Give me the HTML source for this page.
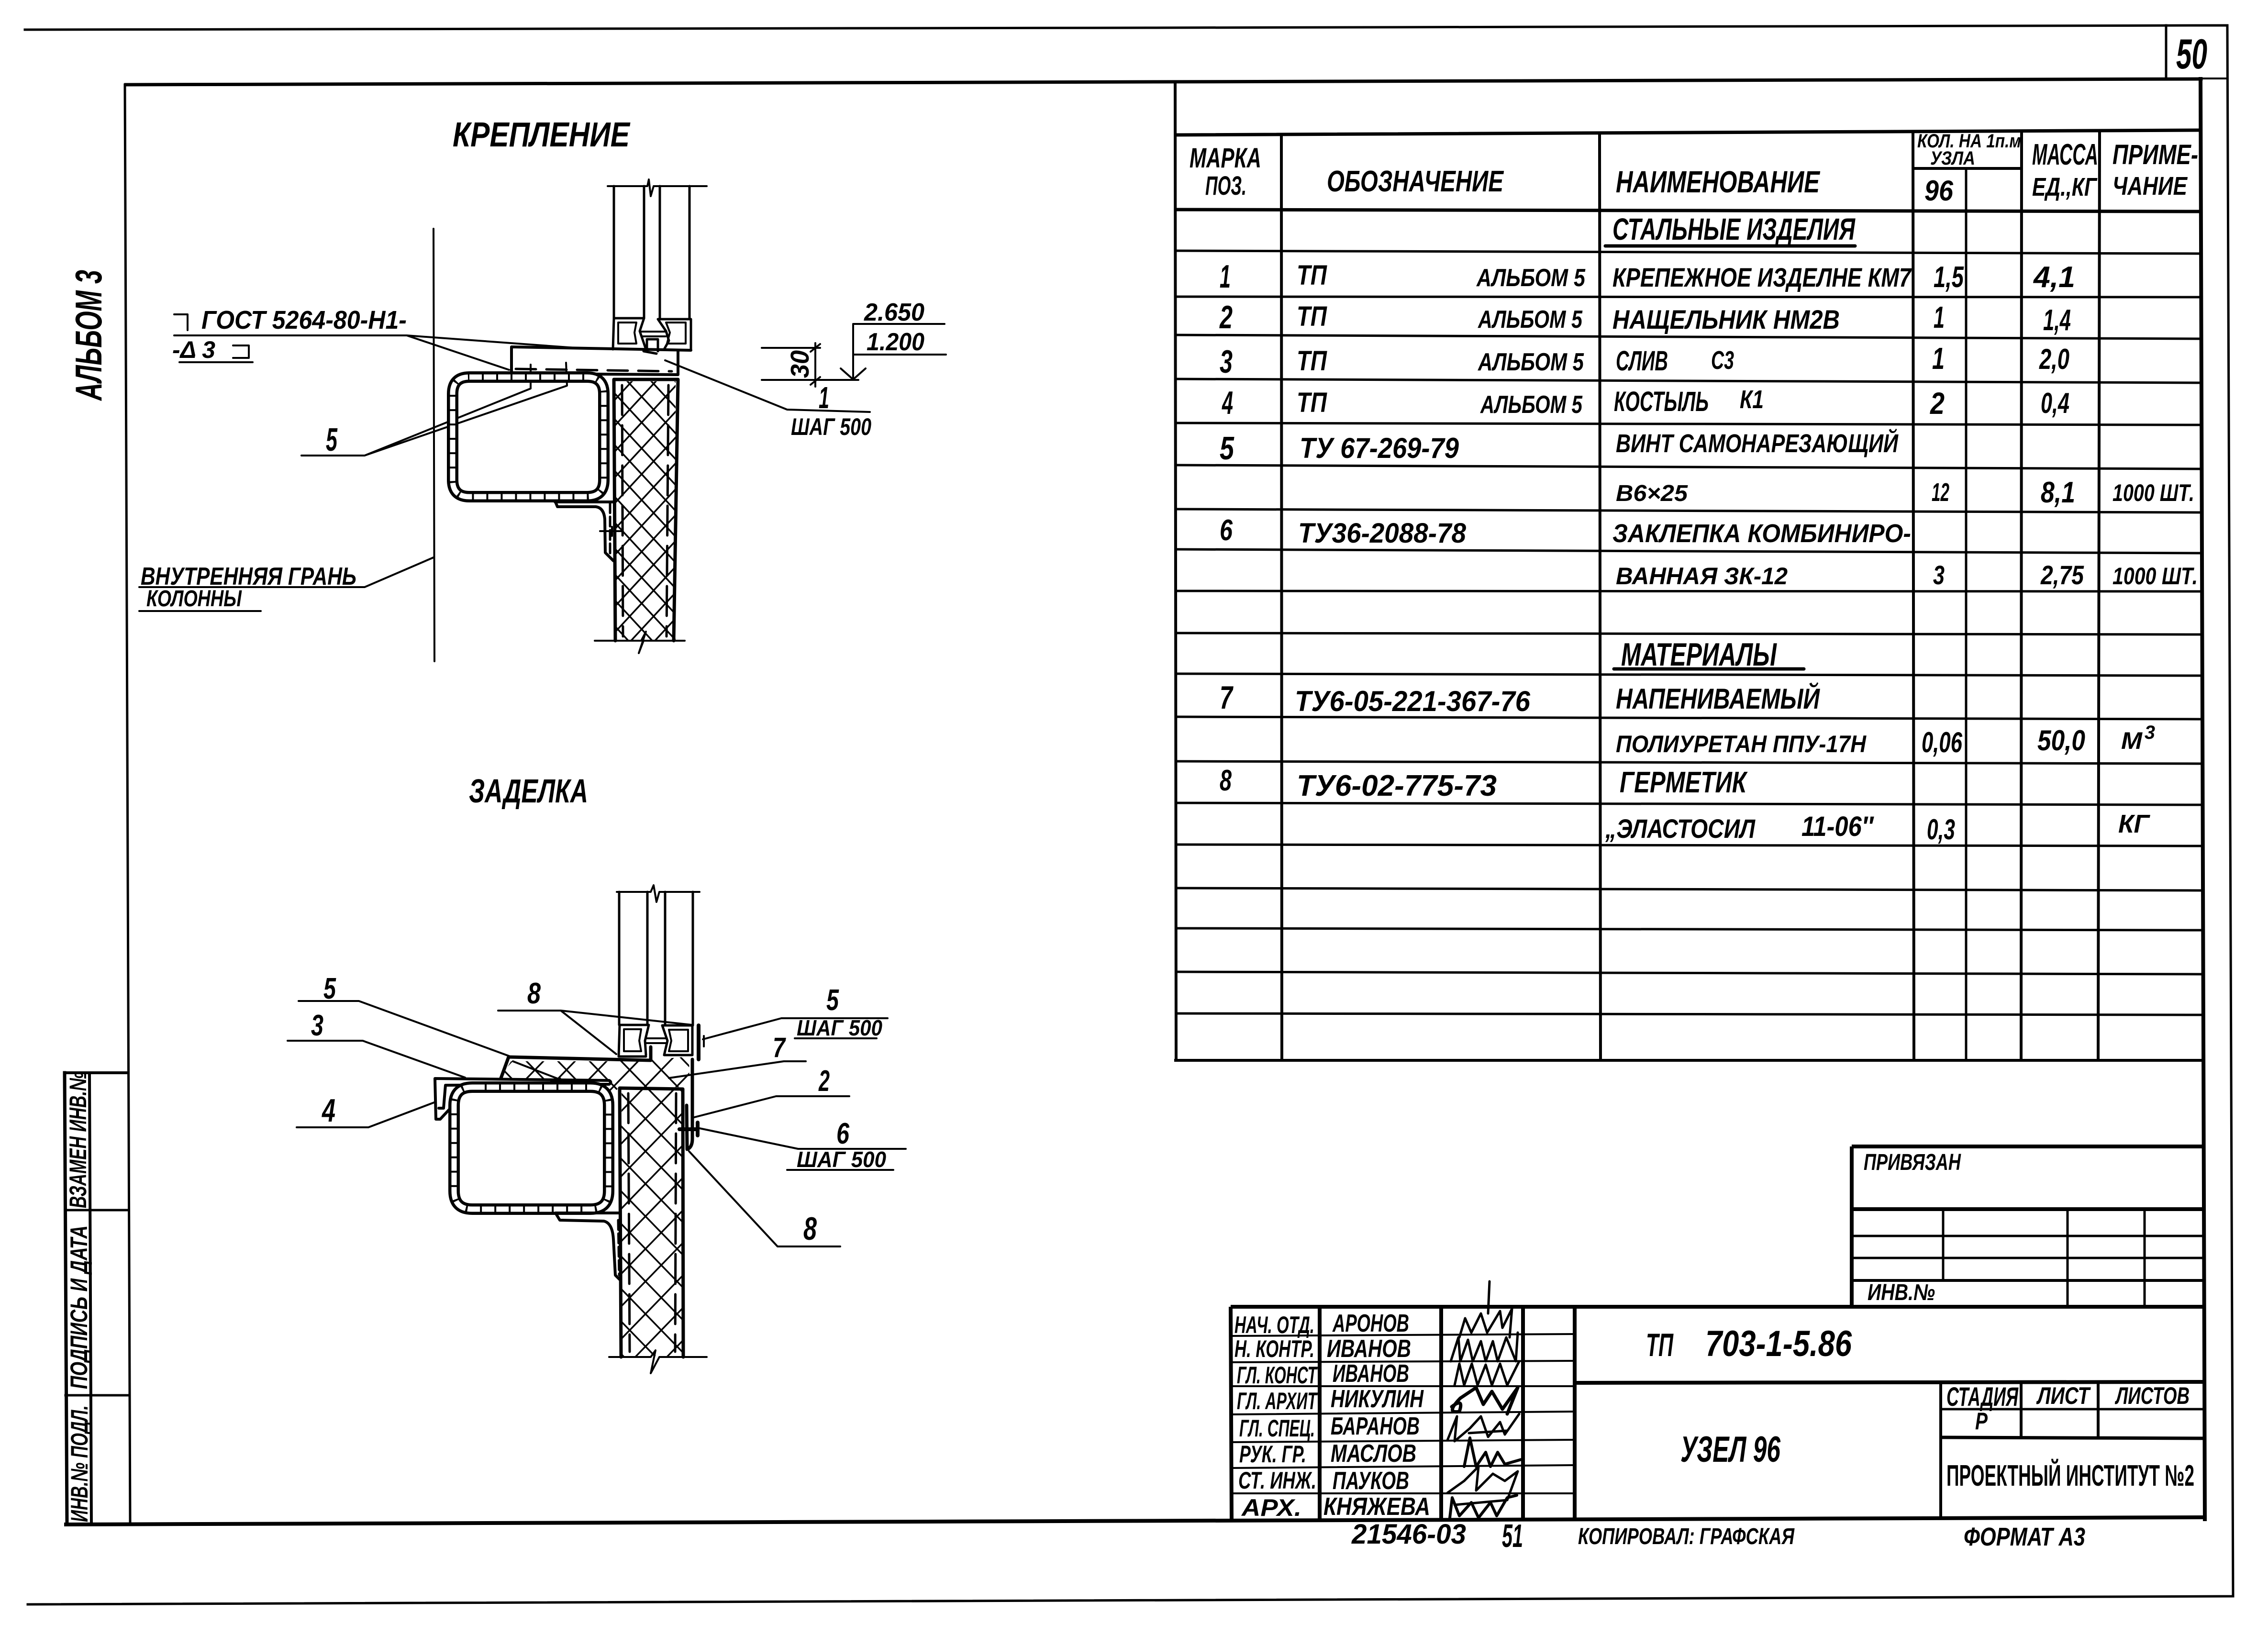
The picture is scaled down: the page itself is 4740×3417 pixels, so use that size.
<!DOCTYPE html>
<html lang="ru"><head><meta charset="utf-8"><title>Узел 96</title>
<style>
html,body{margin:0;padding:0;background:#fff}
svg{display:block}
text{font-family:"Liberation Sans","DejaVu Sans",sans-serif;font-style:italic;font-weight:bold;fill:#000}
.n{font-style:normal}
</style></head><body>
<svg xmlns="http://www.w3.org/2000/svg" width="4740" height="3417" viewBox="0 0 4740 3417">
<defs>
<pattern id="h1" patternUnits="userSpaceOnUse" x="1316" y="802" width="50" height="54"><path d="M0 0L50 54M50 0L0 54" stroke="#000" stroke-width="3.5" fill="none"/></pattern>
<pattern id="h2" patternUnits="userSpaceOnUse" x="1349" y="2270" width="66" height="68"><path d="M0 0L66 68M66 0L0 68" stroke="#000" stroke-width="3.5" fill="none"/></pattern>
</defs>
<rect width="4740" height="3417" fill="#fff"/>

<!-- sheet lines -->
<g fill="none" stroke="#000" stroke-linecap="square">
<path d="M52 62L2400 58L4655 53L4667 3336L58 3353" stroke-width="5"/>
<path d="M4527 53L4527 165" stroke-width="5"/>
<path d="M4600 164L4655 164" stroke-width="4"/>
<path d="M263 177L4600 165" stroke-width="7"/>
<path d="M261 177L272 3186" stroke-width="5"/>
<path d="M138 3186L4608 3171" stroke-width="8"/>
<path d="M4599 165L4608 3175" stroke-width="8"/>
<!-- side stamp -->
<path d="M135 2242L140 3186" stroke-width="7"/>
<path d="M135 2242L266 2242" stroke-width="6"/>
<path d="M187 2242L191 3186" stroke-width="6"/>
<path d="M136 2529L268 2529M137 2916L270 2916" stroke-width="5"/>
</g>
<g transform="translate(180,2525) rotate(-90)"><text font-size="50" textLength="285" lengthAdjust="spacingAndGlyphs">ВЗАМЕН ИНВ.№</text></g>
<g transform="translate(182,2903) rotate(-90)"><text font-size="50" textLength="342" lengthAdjust="spacingAndGlyphs">ПОДПИСЬ И ДАТА</text></g>
<g transform="translate(183,3181) rotate(-90)"><text font-size="50" textLength="244" lengthAdjust="spacingAndGlyphs">ИНВ.№ ПОДЛ.</text></g>
<g transform="translate(212,837) rotate(-90)"><text font-size="78" textLength="273" lengthAdjust="spacingAndGlyphs">АЛЬБОМ 3</text></g>

<!-- spec table grid -->
<g fill="none" stroke="#000" stroke-width="5">
<path stroke-width="7" d="M2457 282L4599 272M2457 438L4600 442"/>
<path d="M2457 524L4600 530M2457 620L4601 621M2457 700L4601 708M2457 792L4601 800M2457 884L4601 888M2457 972L4601 980M2457 1064L4602 1071M2457 1148L4602 1156M2457 1235L4602 1236M2457 1323L4602 1326M2457 1408L4603 1412M2457 1498L4603 1503M2457 1591L4603 1596M2457 1678L4604 1682M2457 1765L4604 1768M2457 1856L4604 1861M2457 1940L4604 1944M2457 2031L4605 2036M2457 2118L4605 2121"/>
<path stroke-width="6" d="M2454 2216L4605 2216"/>
<path stroke-width="6" d="M2456 173L2458 2216M2678 282L2679 2216M3343 278L3345 2216M3998 276L4000 2216M4225 276L4224 2216M4388 274L4385 2216"/>
<path d="M4109 352L4109 2216"/>
<path stroke-width="6" d="M3998 352L4225 352"/>
<path stroke-width="7" stroke-linecap="round" d="M3355 514L3877 514M3373 1398L3770 1398"/>
</g>

<!-- spec header text -->
<text x="4548" y="143" font-size="88" textLength="65" lengthAdjust="spacingAndGlyphs">50</text>
<text x="2486" y="350" font-size="58" textLength="150" lengthAdjust="spacingAndGlyphs">МАРКА</text>
<text x="2519" y="407" font-size="56" textLength="86" lengthAdjust="spacingAndGlyphs">ПОЗ.</text>
<text x="2773" y="400" font-size="62" textLength="369" lengthAdjust="spacingAndGlyphs">ОБОЗНАЧЕНИЕ</text>
<text x="3377" y="402" font-size="64" textLength="426" lengthAdjust="spacingAndGlyphs">НАИМЕНОВАНИЕ</text>
<text x="4007" y="308" font-size="40" textLength="217" lengthAdjust="spacingAndGlyphs">КОЛ. НА 1п.м</text>
<text x="4034" y="344" font-size="40" textLength="94" lengthAdjust="spacingAndGlyphs">УЗЛА</text>
<text x="4022" y="419" font-size="60" textLength="60" lengthAdjust="spacingAndGlyphs">96</text>
<text x="4247" y="344" font-size="62" textLength="138" lengthAdjust="spacingAndGlyphs">МАССА</text>
<text x="4247" y="409" font-size="54" textLength="135" lengthAdjust="spacingAndGlyphs">ЕД.,КГ</text>
<text x="4415" y="343" font-size="58" textLength="179" lengthAdjust="spacingAndGlyphs">ПРИМЕ-</text>
<text x="4415" y="407" font-size="54" textLength="156" lengthAdjust="spacingAndGlyphs">ЧАНИЕ</text>

<!-- spec rows -->
<text x="3370" y="501" font-size="64" textLength="507" lengthAdjust="spacingAndGlyphs">СТАЛЬНЫЕ ИЗДЕЛИЯ</text>

<text x="2549" y="601" font-size="68" textLength="23" lengthAdjust="spacingAndGlyphs">1</text>
<text x="2710" y="595" font-size="58" textLength="63" lengthAdjust="spacingAndGlyphs">ТП</text>
<text x="3086" y="598" font-size="52" textLength="227" lengthAdjust="spacingAndGlyphs">АЛЬБОМ 5</text>
<text x="3370" y="599" font-size="56" textLength="624" lengthAdjust="spacingAndGlyphs">КРЕПЕЖНОЕ ИЗДЕЛНЕ КМ7</text>
<text x="4041" y="600" font-size="62" textLength="63" lengthAdjust="spacingAndGlyphs">1,5</text>
<text x="4250" y="600" font-size="62" textLength="87" lengthAdjust="spacingAndGlyphs">4,1</text>

<text x="2549" y="686" font-size="68" textLength="27" lengthAdjust="spacingAndGlyphs">2</text>
<text x="2710" y="681" font-size="58" textLength="63" lengthAdjust="spacingAndGlyphs">ТП</text>
<text x="3089" y="685" font-size="52" textLength="218" lengthAdjust="spacingAndGlyphs">АЛЬБОМ 5</text>
<text x="3370" y="687" font-size="56" textLength="475" lengthAdjust="spacingAndGlyphs">НАЩЕЛЬНИК НМ2В</text>
<text x="4041" y="685" font-size="64" textLength="23" lengthAdjust="spacingAndGlyphs">1</text>
<text x="4270" y="690" font-size="62" textLength="58" lengthAdjust="spacingAndGlyphs">1,4</text>

<text x="2549" y="779" font-size="68" textLength="27" lengthAdjust="spacingAndGlyphs">3</text>
<text x="2710" y="774" font-size="58" textLength="63" lengthAdjust="spacingAndGlyphs">ТП</text>
<text x="3089" y="774" font-size="52" textLength="221" lengthAdjust="spacingAndGlyphs">АЛЬБОМ 5</text>
<text x="3377" y="774" font-size="58" textLength="109" lengthAdjust="spacingAndGlyphs">СЛИВ</text>
<text x="3576" y="771" font-size="54" textLength="48" lengthAdjust="spacingAndGlyphs">С3</text>
<text x="4038" y="771" font-size="64" textLength="26" lengthAdjust="spacingAndGlyphs">1</text>
<text x="4262" y="771" font-size="60" textLength="63" lengthAdjust="spacingAndGlyphs">2,0</text>

<text x="2554" y="865" font-size="68" textLength="23" lengthAdjust="spacingAndGlyphs">4</text>
<text x="2710" y="861" font-size="58" textLength="63" lengthAdjust="spacingAndGlyphs">ТП</text>
<text x="3094" y="863" font-size="52" textLength="213" lengthAdjust="spacingAndGlyphs">АЛЬБОМ 5</text>
<text x="3373" y="859" font-size="58" textLength="198" lengthAdjust="spacingAndGlyphs">КОСТЫЛЬ</text>
<text x="3636" y="853" font-size="54" textLength="50" lengthAdjust="spacingAndGlyphs">К1</text>
<text x="4034" y="865" font-size="64" textLength="30" lengthAdjust="spacingAndGlyphs">2</text>
<text x="4265" y="863" font-size="60" textLength="60" lengthAdjust="spacingAndGlyphs">0,4</text>

<text x="2549" y="960" font-size="68" textLength="30" lengthAdjust="spacingAndGlyphs">5</text>
<text x="2716" y="957" font-size="60" textLength="333" lengthAdjust="spacingAndGlyphs">ТУ 67-269-79</text>
<text x="3377" y="945" font-size="54" textLength="590" lengthAdjust="spacingAndGlyphs">ВИНТ САМОНАРЕЗАЮЩИЙ</text>

<text x="3377" y="1047" font-size="48" textLength="150" lengthAdjust="spacingAndGlyphs">В6×25</text>
<text x="4037" y="1047" font-size="54" textLength="37" lengthAdjust="spacingAndGlyphs">12</text>
<text x="4265" y="1050" font-size="62" textLength="72" lengthAdjust="spacingAndGlyphs">8,1</text>
<text x="4415" y="1047" font-size="50" textLength="171" lengthAdjust="spacingAndGlyphs">1000 ШТ.</text>

<text x="2549" y="1129" font-size="62" textLength="27" lengthAdjust="spacingAndGlyphs">6</text>
<text x="2713" y="1134" font-size="58" textLength="351" lengthAdjust="spacingAndGlyphs">ТУ36-2088-78</text>
<text x="3370" y="1133" font-size="54" textLength="624" lengthAdjust="spacingAndGlyphs">ЗАКЛЕПКА КОМБИНИРО-</text>

<text x="3377" y="1221" font-size="50" textLength="359" lengthAdjust="spacingAndGlyphs">ВАННАЯ ЗК-12</text>
<text x="4040" y="1221" font-size="56" textLength="24" lengthAdjust="spacingAndGlyphs">3</text>
<text x="4265" y="1221" font-size="56" textLength="90" lengthAdjust="spacingAndGlyphs">2,75</text>
<text x="4415" y="1221" font-size="50" textLength="178" lengthAdjust="spacingAndGlyphs">1000 ШТ.</text>

<text x="3388" y="1391" font-size="68" textLength="325" lengthAdjust="spacingAndGlyphs">МАТЕРИАЛЫ</text>

<text x="2549" y="1481" font-size="68" textLength="27" lengthAdjust="spacingAndGlyphs">7</text>
<text x="2706" y="1486" font-size="60" textLength="492" lengthAdjust="spacingAndGlyphs">ТУ6-05-221-367-76</text>
<text x="3377" y="1481" font-size="60" textLength="426" lengthAdjust="spacingAndGlyphs">НАПЕНИВАЕМЫЙ</text>

<text x="3377" y="1572" font-size="50" textLength="523" lengthAdjust="spacingAndGlyphs">ПОЛИУРЕТАН ППУ-17Н</text>
<text x="4016" y="1572" font-size="60" textLength="85" lengthAdjust="spacingAndGlyphs">0,06</text>
<text x="4258" y="1568" font-size="60" textLength="100" lengthAdjust="spacingAndGlyphs">50,0</text>
<text x="4433" y="1565" font-size="50" textLength="44" lengthAdjust="spacingAndGlyphs">М</text>
<text x="4482" y="1544" font-size="40" textLength="22" lengthAdjust="spacingAndGlyphs">3</text>

<text x="2549" y="1652" font-size="62" textLength="25" lengthAdjust="spacingAndGlyphs">8</text>
<text x="2710" y="1663" font-size="62" textLength="418" lengthAdjust="spacingAndGlyphs">ТУ6-02-775-73</text>
<text x="3385" y="1656" font-size="62" textLength="265" lengthAdjust="spacingAndGlyphs">ГЕРМЕТИК</text>

<text x="3355" y="1751" font-size="56" textLength="313" lengthAdjust="spacingAndGlyphs">„ЭЛАСТОСИЛ</text>
<text x="3765" y="1747" font-size="58" textLength="150" lengthAdjust="spacingAndGlyphs">11-06″</text>
<text x="4027" y="1754" font-size="60" textLength="59" lengthAdjust="spacingAndGlyphs">0,3</text>
<text x="4427" y="1740" font-size="54" textLength="65" lengthAdjust="spacingAndGlyphs">КГ</text>

<!-- drawing 1 labels -->
<text x="946" y="306" font-size="72" textLength="370" lengthAdjust="spacingAndGlyphs">КРЕПЛЕНИЕ</text>
<text x="421" y="687" font-size="54" textLength="429" lengthAdjust="spacingAndGlyphs">ГОСТ 5264-80-Н1-</text>
<text x="360" y="748" font-size="50" textLength="90" lengthAdjust="spacingAndGlyphs">-Δ 3</text>
<text x="681" y="942" font-size="68" textLength="24" lengthAdjust="spacingAndGlyphs">5</text>
<text x="1806" y="670" font-size="52" textLength="126" lengthAdjust="spacingAndGlyphs">2.650</text>
<text x="1811" y="732" font-size="52" textLength="121" lengthAdjust="spacingAndGlyphs">1.200</text>
<g transform="translate(1690,790) rotate(-90)"><text font-size="54" textLength="58" lengthAdjust="spacingAndGlyphs">30</text></g>
<text x="1711" y="853" font-size="64" textLength="22" lengthAdjust="spacingAndGlyphs">1</text>
<text x="1653" y="909" font-size="50" textLength="168" lengthAdjust="spacingAndGlyphs">ШАГ 500</text>
<text x="294" y="1222" font-size="52" textLength="451" lengthAdjust="spacingAndGlyphs">ВНУТРЕННЯЯ ГРАНЬ</text>
<text x="306" y="1267" font-size="48" textLength="199" lengthAdjust="spacingAndGlyphs">КОЛОННЫ</text>

<!-- drawing 1 leaders -->
<g fill="none" stroke="#000" stroke-width="4" stroke-linecap="round" stroke-linejoin="round">
<path d="M364 657L392 657L392 690"/>
<path d="M487 722L520 722L520 748L487 748"/>
<path d="M364 701L850 701L1203 727M850 701L1064 773"/>
<path d="M375 757L528 757"/>
<path d="M630 952L762 952L1109 812L1109 762M762 952L1185 806L1183 758"/>
<path d="M1783 677L1974 677M1783 741L1977 741M1783 677L1783 793M1757 770L1783 793L1809 770"/>
<path d="M1592 794L1794 794M1592 727L1714 727M1704 717L1704 808M1694 735L1714 719M1694 804L1714 788"/>
<path d="M1390 753L1645 856L1818 861"/>
<path d="M291 1227L762 1227L906 1165M291 1277L545 1277"/>
<path d="M906 478L908 1382"/>
</g>

<!-- drawing 1 section -->
<rect x="1286" y="797" width="126" height="540" fill="url(#h1)"/>
<g fill="none" stroke="#000" stroke-linecap="round" stroke-linejoin="round">
<path stroke-width="4" d="M1270 389L1353 389L1356 375L1360 410L1366 389L1477 389"/>
<path stroke-width="5" d="M1283 389L1283 665M1346 389L1346 665M1379 389L1379 667M1441 389L1441 667"/>
<path stroke-width="5" d="M1283 665L1346 665L1337 692L1350 730M1375 667L1444 667L1444 732M1283 665L1281 730M1375 667L1392 692L1398 712L1388 730"/>
<path stroke-width="4" d="M1292 674L1330 674L1326 695L1330 718L1292 718ZM1392 674L1433 674L1433 718L1394 718L1400 695Z"/>
<path stroke-width="4" d="M1341 693L1391 693M1341 703L1391 703"/>
<path stroke-width="5" d="M1352 734L1352 709L1375 709L1375 734M1345 734L1372 739"/>
<path stroke-width="6" d="M1069 725L1444 732M1069 725L1069 780M1417 734L1417 783M975 780L1417 783"/>
<path stroke-width="5" stroke-dasharray="42 22" d="M1078 771L1404 776"/>
<path stroke-width="24" d="M981 788L1227 788Q1262 788 1262 823L1262 1003Q1262 1038 1227 1038L981 1038Q946 1038 946 1003L946 823Q946 788 981 788Z"/>
<path stroke="#fff" stroke-width="11" stroke-linecap="butt" stroke-dasharray="26 4" d="M981 788L1227 788Q1262 788 1262 823L1262 1003Q1262 1038 1227 1038L981 1038Q946 1038 946 1003L946 823Q946 788 981 788Z"/>
<path stroke-width="6" d="M1160 1047L1165 1059L1245 1059Q1262 1061 1264 1085L1265 1155L1282 1172"/>
<path stroke-width="6" d="M1160 1049L1283 1049"/>
<path stroke-width="5" stroke-dasharray="20 8" d="M1275 1052L1275 1160"/>
<path stroke-width="4" d="M1254 1110L1301 1110M1279 1101L1279 1120"/>
<path stroke-width="7" d="M1283 793L1417 793L1408 1339M1283 793L1286 1339"/>
<path stroke-width="4" d="M1243 1339L1340 1339L1350 1320L1335 1365L1345 1339L1431 1339"/>
<path stroke-width="5" stroke-dasharray="62 22" d="M1300 805L1302 1330M1397 805L1393 1330"/>
</g>

<!-- drawing 2 labels -->
<text x="980" y="1677" font-size="70" textLength="249" lengthAdjust="spacingAndGlyphs">ЗАДЕЛКА</text>
<text x="676" y="2087" font-size="62" textLength="26" lengthAdjust="spacingAndGlyphs">5</text>
<text x="650" y="2164" font-size="62" textLength="26" lengthAdjust="spacingAndGlyphs">3</text>
<text x="673" y="2344" font-size="68" textLength="28" lengthAdjust="spacingAndGlyphs">4</text>
<text x="1102" y="2097" font-size="62" textLength="28" lengthAdjust="spacingAndGlyphs">8</text>
<text x="1727" y="2111" font-size="62" textLength="26" lengthAdjust="spacingAndGlyphs">5</text>
<text x="1665" y="2164" font-size="46" textLength="179" lengthAdjust="spacingAndGlyphs">ШАГ 500</text>
<text x="1615" y="2209" font-size="58" textLength="26" lengthAdjust="spacingAndGlyphs">7</text>
<text x="1711" y="2280" font-size="62" textLength="23" lengthAdjust="spacingAndGlyphs">2</text>
<text x="1748" y="2390" font-size="62" textLength="27" lengthAdjust="spacingAndGlyphs">6</text>
<text x="1665" y="2439" font-size="46" textLength="187" lengthAdjust="spacingAndGlyphs">ШАГ 500</text>
<text x="1679" y="2591" font-size="68" textLength="28" lengthAdjust="spacingAndGlyphs">8</text>

<!-- drawing 2 section -->
<polygon points="1068,2218 1361,2218 1361,2190 1377,2190 1395,2212 1440,2208 1441,2272 1295,2272 1272,2293 1275,2262 1046,2253" fill="url(#h2)"/>
<rect x="1299" y="2278" width="126" height="556" fill="url(#h2)"/>
<g fill="none" stroke="#000" stroke-linecap="round" stroke-linejoin="round">
<path stroke-width="4" d="M624 2092L750 2092L1064 2207M1072 2218L1170 2256"/>
<path stroke-width="4" d="M601 2175L758 2175L972 2252"/>
<path stroke-width="4" d="M620 2356L770 2356L910 2303"/>
<path stroke-width="4" d="M1041 2112L1172 2112L1447 2142M1172 2112L1288 2203"/>
<path stroke-width="4" d="M1469 2172L1633 2128L1855 2128M1661 2170L1832 2170"/>
<path stroke-width="4" d="M1398 2253L1638 2218L1684 2218"/>
<path stroke-width="4" d="M1451 2335L1622 2291L1775 2291"/>
<path stroke-width="4" d="M1462 2358L1668 2401L1893 2401M1645 2445L1867 2445"/>
<path stroke-width="4" d="M1440 2406L1625 2605L1756 2605"/>
<path stroke-width="4" d="M1289 1864L1360 1864L1366 1850L1372 1885L1378 1864L1462 1864"/>
<path stroke-width="5" d="M1294 1864L1294 2142M1353 1864L1353 2142M1390 1864L1390 2143M1448 1864L1448 2143"/>
<path stroke-width="5" d="M1295 2142L1356 2142L1348 2175L1350 2205M1384 2143L1447 2143L1447 2205L1388 2205L1395 2175Z M1295 2142L1293 2208L1350 2208"/>
<path stroke-width="4" d="M1304 2151L1340 2151L1336 2175L1340 2197L1304 2197ZM1398 2152L1438 2152L1438 2197L1398 2197L1403 2175Z"/>
<path stroke-width="4" d="M1349 2170L1391 2170M1349 2180L1391 2180"/>
<path stroke-width="7" d="M1063 2209L1360 2216L1360 2188M1063 2209L1047 2253"/>
<path stroke-width="6" d="M909 2254L1273 2258Q1280 2262 1273 2266L931 2268L927 2316L917 2316M909 2254L911 2339L920 2339L947 2310"/>
<path stroke-width="24" d="M987 2272L1234 2272Q1272 2272 1272 2310L1272 2489Q1272 2527 1234 2527L987 2527Q949 2527 949 2489L949 2310Q949 2272 987 2272Z"/>
<path stroke="#fff" stroke-width="11" stroke-linecap="butt" stroke-dasharray="26 4" d="M987 2272L1234 2272Q1272 2272 1272 2310L1272 2489Q1272 2527 1234 2527L987 2527Q949 2527 949 2489L949 2310Q949 2272 987 2272Z"/>
<path stroke-width="6" d="M1161 2535L1170 2550L1262 2552Q1280 2556 1282 2590L1286 2665L1295 2674"/>
<path stroke-width="6" d="M1161 2535L1295 2535"/>
<path stroke-width="5" stroke-dasharray="20 8" d="M1292 2550L1294 2665"/>
<path stroke-width="7" d="M1295 2274L1427 2276L1428 2836M1295 2274L1298 2836"/>
<path stroke-width="4" d="M1273 2836L1360 2836L1370 2822L1360 2870L1378 2836L1477 2836"/>
<path stroke-width="5" stroke-dasharray="62 22" d="M1313 2285L1316 2825M1413 2285L1411 2825"/>
<path stroke-width="7" d="M1447 2214L1447 2380Q1447 2398 1436 2402L1435 2310"/>
<path stroke-width="8" d="M1420 2360L1458 2360M1458 2346L1458 2373M1460 2143L1460 2214"/>
<path stroke-width="4" d="M1471 2165L1471 2187"/>
</g>
<polygon points="1150,2255 1172,2252 1175,2262 1150,2262" fill="#000"/>

<!-- title block grid -->
<g fill="none" stroke="#000" stroke-width="5">
<path stroke-width="8" d="M3870 2396L4604 2396M3870 2396L3870 2731"/>
<path stroke-width="8" d="M3870 2527L4604 2527"/>
<path stroke-width="6" d="M3870 2676L4604 2676"/>
<path d="M3870 2583L4604 2583M3870 2629L4604 2629"/>
<path d="M4061 2527L4061 2676M4321 2527L4321 2731M4482 2527L4482 2731"/>
<path stroke-width="8" d="M2572 2731L4606 2731"/>
<path stroke-width="8" d="M2572 2731L2574 3178M2758 2731L2758 3175M3012 2731L3012 3175M3183 2731L3183 3175M3291 2731L3291 3175"/>
<path stroke-width="4" d="M2572 2792L3291 2788M2572 2847L3291 2844M2572 2897L3291 2897M2572 2956L3291 2950M2572 3014L3291 3009M2572 3068L3291 3062M2572 3121L3291 3121"/>
<path stroke-width="8" d="M3291 2890L4606 2888"/>
<path stroke-width="6" d="M4056 2890L4056 3173M4224 2890L4224 3004M4385 2890L4385 3004"/>
<path d="M4056 2945L4606 2945"/>
<path stroke-width="7" d="M4056 3004L4606 3006"/>
</g>

<!-- signatures -->
<g fill="none" stroke="#000" stroke-width="5" stroke-linecap="round" stroke-linejoin="round">
<path d="M3113 2678L3110 2745M3050 2795L3062 2755L3075 2785L3095 2745L3108 2785L3135 2740L3140 2775L3160 2735L3155 2795"/>
<path d="M3032 2845L3048 2795L3052 2845L3068 2800L3078 2845L3095 2803L3105 2845L3120 2803L3130 2845L3148 2795L3168 2845L3172 2785"/>
<path d="M3040 2895L3050 2850L3060 2895L3076 2850L3088 2895L3105 2852L3118 2895L3135 2850L3150 2895L3175 2845"/>
<path stroke-width="7" d="M3034 2940Q3060 2920 3050 2950Q3020 2955 3052 2922L3085 2900L3100 2935L3118 2908L3140 2945L3172 2900L3150 2955"/>
<path d="M3025 3010L3045 2960L3040 3012L3072 2985L3095 2960L3110 3003L3135 2972L3145 2998L3175 2955M3070 2995L3150 2990"/>
<path stroke-width="6" d="M3060 3065L3072 3005L3085 3065L3105 3035L3115 3065L3130 3035L3145 3060L3180 3050"/>
<path d="M3025 3120L3060 3095L3090 3065L3085 3115L3120 3080L3145 3095L3172 3075L3150 3135L3040 3145"/>
<path stroke-width="6" d="M3030 3172L3035 3130L3050 3168L3075 3140L3090 3172L3115 3140L3128 3168L3150 3130L3170 3125"/>
</g>

<!-- title block text -->
<text x="3895" y="2445" font-size="48" textLength="203" lengthAdjust="spacingAndGlyphs">ПРИВЯЗАН</text>
<text x="3903" y="2717" font-size="48" textLength="141" lengthAdjust="spacingAndGlyphs">ИНВ.№</text>
<text x="3440" y="2834" font-size="68" textLength="57" lengthAdjust="spacingAndGlyphs">ТП</text>
<text x="3564" y="2834" font-size="76" textLength="306" lengthAdjust="spacingAndGlyphs">703-1-5.86</text>
<text x="3512" y="3055" font-size="76" textLength="209" lengthAdjust="spacingAndGlyphs">УЗЕЛ 96</text>
<text x="4068" y="2938" font-size="56" textLength="150" lengthAdjust="spacingAndGlyphs">СТАДИЯ</text>
<text x="4258" y="2934" font-size="50" textLength="109" lengthAdjust="spacingAndGlyphs">ЛИСТ</text>
<text x="4422" y="2934" font-size="50" textLength="154" lengthAdjust="spacingAndGlyphs">ЛИСТОВ</text>
<text x="4128" y="2987" font-size="50" textLength="26" lengthAdjust="spacingAndGlyphs">Р</text>
<text class="n" x="4068" y="3105" font-size="62" textLength="518" lengthAdjust="spacingAndGlyphs">ПРОЕКТНЫЙ ИНСТИТУТ №2</text>

<text x="2580" y="2786" font-size="50" textLength="167" lengthAdjust="spacingAndGlyphs">НАЧ. ОТД.</text>
<text x="2580" y="2836" font-size="50" textLength="167" lengthAdjust="spacingAndGlyphs">Н. КОНТР.</text>
<text x="2585" y="2891" font-size="50" textLength="167" lengthAdjust="spacingAndGlyphs">ГЛ. КОНСТ</text>
<text x="2585" y="2945" font-size="50" textLength="167" lengthAdjust="spacingAndGlyphs">ГЛ. АРХИТ</text>
<text x="2590" y="3002" font-size="50" textLength="158" lengthAdjust="spacingAndGlyphs">ГЛ. СПЕЦ.</text>
<text x="2590" y="3056" font-size="50" textLength="140" lengthAdjust="spacingAndGlyphs">РУК. ГР.</text>
<text x="2588" y="3111" font-size="50" textLength="163" lengthAdjust="spacingAndGlyphs">СТ. ИНЖ.</text>
<text x="2595" y="3168" font-size="50" textLength="125" lengthAdjust="spacingAndGlyphs">АРХ.</text>

<text x="2785" y="2783" font-size="52" textLength="160" lengthAdjust="spacingAndGlyphs">АРОНОВ</text>
<text x="2773" y="2836" font-size="52" textLength="176" lengthAdjust="spacingAndGlyphs">ИВАНОВ</text>
<text x="2785" y="2888" font-size="52" textLength="160" lengthAdjust="spacingAndGlyphs">ИВАНОВ</text>
<text x="2781" y="2941" font-size="52" textLength="194" lengthAdjust="spacingAndGlyphs">НИКУЛИН</text>
<text x="2781" y="2998" font-size="52" textLength="186" lengthAdjust="spacingAndGlyphs">БАРАНОВ</text>
<text x="2781" y="3055" font-size="52" textLength="179" lengthAdjust="spacingAndGlyphs">МАСЛОВ</text>
<text x="2785" y="3112" font-size="52" textLength="160" lengthAdjust="spacingAndGlyphs">ПАУКОВ</text>
<text x="2766" y="3166" font-size="52" textLength="223" lengthAdjust="spacingAndGlyphs">КНЯЖЕВА</text>

<text x="2825" y="3226" font-size="58" textLength="239" lengthAdjust="spacingAndGlyphs">21546-03</text>
<text x="3139" y="3233" font-size="68" textLength="44" lengthAdjust="spacingAndGlyphs">51</text>
<text x="3298" y="3227" font-size="48" textLength="452" lengthAdjust="spacingAndGlyphs">КОПИРОВАЛ: ГРАФСКАЯ</text>
<text x="4104" y="3230" font-size="54" textLength="254" lengthAdjust="spacingAndGlyphs">ФОРМАТ А3</text>
</svg>
</body></html>
